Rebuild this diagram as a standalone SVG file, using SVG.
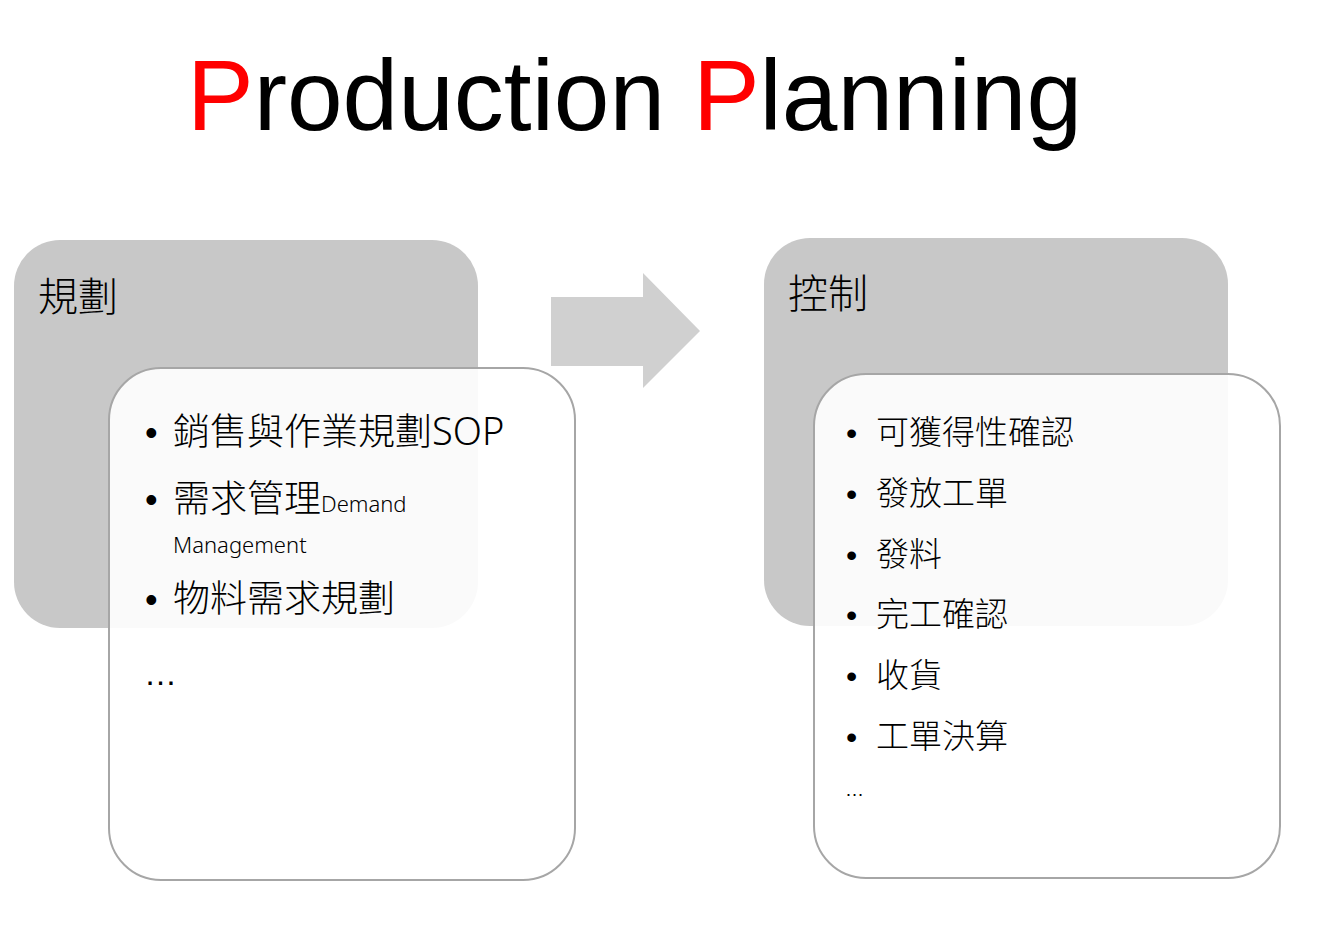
<svg xmlns="http://www.w3.org/2000/svg" width="1325" height="944" viewBox="0 0 1325 944">
<style>
.title{font-family:"Liberation Sans",Arial,sans-serif;font-size:100px;fill:#000}
.red{fill:#ff0000}
.gray{fill:#c8c8c8}
.card{fill:#ffffff;fill-opacity:0.9;stroke:#a6a6a6;stroke-width:2}
.head{font-family:"Noto Sans CJK TC","Noto Sans",sans-serif;font-size:40px;font-weight:300;fill:#000}
.big{font-family:"Noto Sans","Noto Sans CJK TC",sans-serif;font-size:37px;font-weight:300;fill:#000}
.mid{font-family:"Noto Sans","Noto Sans CJK TC",sans-serif;font-size:33px;font-weight:300;fill:#000}
.small{font-family:"Noto Sans","Noto Sans CJK TC",sans-serif;font-size:22px;font-weight:300;fill:#000}
.bul{font-family:"Liberation Sans",Arial,sans-serif;fill:#000}
.arrow{fill:#d0d0d0}
</style>
<rect width="1325" height="944" fill="#ffffff"/>
<text class="title" x="187" y="130"><tspan class="red">P</tspan>roduction <tspan class="red">P</tspan>lanning</text>
<g id="planning">
  <rect class="gray" x="14" y="240" width="464" height="388" rx="46"/>
  <text class="head" x="38" y="311">規劃</text>
</g>
<g id="planning-items">
  <rect class="card" x="109" y="368" width="466" height="512" rx="52"/>
  <text class="bul" x="145" y="445" font-size="36">•</text>
  <text class="big" x="173" y="445">銷售與作業規劃<tspan font-size="38">SOP</tspan></text>
  <text class="bul" x="145" y="512" font-size="36">•</text>
  <text class="big" x="173" y="512">需求管理<tspan class="small">Demand</tspan></text>
  <text class="small" x="173" y="553">Management</text>
  <text class="bul" x="145" y="612" font-size="36">•</text>
  <text class="big" x="173" y="612">物料需求規劃</text>
  <text class="bul" x="144" y="685" font-size="33">…</text>
</g>
<g id="connectors">
  <polygon class="arrow" points="551,297 643,297 643,273 700,331 643,388 643,366 551,366"/>
</g>
<g id="control">
  <rect class="gray" x="764" y="238" width="464" height="388" rx="46"/>
  <text class="head" x="788" y="308">控制</text>
</g>
<g id="control-items">
  <rect class="card" x="814" y="374" width="466" height="504" rx="52"/>
  <text class="bul" x="846" y="444" font-size="32">•</text>
  <text class="mid" x="876" y="444">可獲得性確認</text>
  <text class="bul" x="846" y="505" font-size="32">•</text>
  <text class="mid" x="876" y="505">發放工單</text>
  <text class="bul" x="846" y="566" font-size="32">•</text>
  <text class="mid" x="876" y="566">發料</text>
  <text class="bul" x="846" y="626" font-size="32">•</text>
  <text class="mid" x="876" y="626">完工確認</text>
  <text class="bul" x="846" y="687" font-size="32">•</text>
  <text class="mid" x="876" y="687">收貨</text>
  <text class="bul" x="846" y="748" font-size="32">•</text>
  <text class="mid" x="876" y="748">工單決算</text>
  <text class="bul" x="845" y="796" font-size="19">…</text>
</g>
</svg>
